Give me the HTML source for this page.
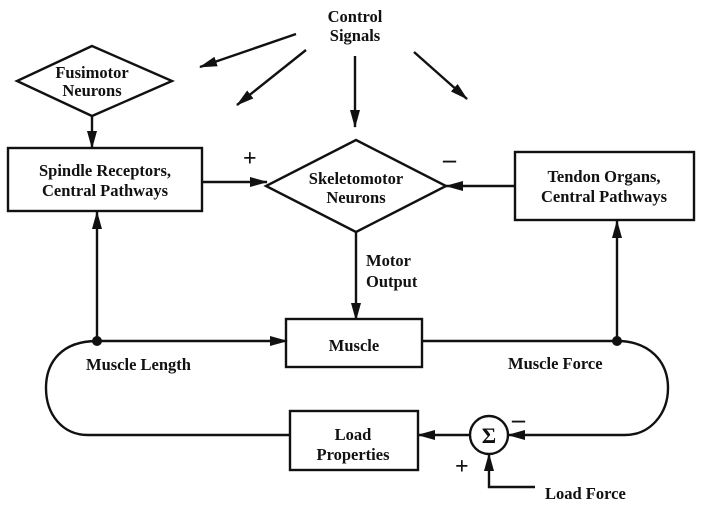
<!DOCTYPE html>
<html><head><meta charset="utf-8"><style>
html,body{margin:0;padding:0;background:#fff;}
svg text{font-family:"Liberation Serif",serif;font-weight:bold;font-size:16.5px;fill:#111;}
</style></head><body>
<svg width="709" height="507" viewBox="0 0 709 507" xmlns="http://www.w3.org/2000/svg">
<defs><marker id="a" markerWidth="18" markerHeight="10" refX="17" refY="5" orient="auto" markerUnits="userSpaceOnUse"><path d="M0,0 L18,5 L0,10 Z" fill="#111"/></marker></defs>
<g stroke="#111" stroke-width="2.4" fill="none">
<line x1="296" y1="34" x2="200" y2="67" marker-end="url(#a)"/>
<line x1="306" y1="50" x2="237" y2="105" marker-end="url(#a)"/>
<line x1="355" y1="56" x2="355" y2="127" marker-end="url(#a)"/>
<line x1="414" y1="52" x2="467" y2="99" marker-end="url(#a)"/>
<polygon points="92,46 172,81 92,116 17,81" fill="#fff"/>
<line x1="92" y1="116" x2="92" y2="148" marker-end="url(#a)"/>
<rect x="8" y="148" width="194" height="63" fill="#fff"/>
<polygon points="356,140 446,186 356,232 266,186" fill="#fff"/>
<line x1="202" y1="182" x2="267" y2="182" marker-end="url(#a)"/>
<rect x="515" y="152" width="179" height="68" fill="#fff"/>
<line x1="515" y1="186" x2="446" y2="186" marker-end="url(#a)"/>
<line x1="356" y1="232" x2="356" y2="320" marker-end="url(#a)"/>
<rect x="286" y="319" width="136" height="48" fill="#fff"/>
<line x1="97" y1="341" x2="287" y2="341" marker-end="url(#a)"/>
<line x1="422" y1="341" x2="617" y2="341"/>
<line x1="97" y1="341" x2="97" y2="212" marker-end="url(#a)"/>
<line x1="617" y1="341" x2="617" y2="221" marker-end="url(#a)"/>
<path d="M97,341 C62,341 46,362 46,388 C46,414 62,435 88,435 L290,435"/>
<path d="M617,341 C650,341 668,362 668,388 C668,414 650,435 625,435 L508,435" marker-end="url(#a)"/>
<rect x="290" y="411" width="128" height="59" fill="#fff"/>
<line x1="470" y1="435" x2="418" y2="435" marker-end="url(#a)"/>
<circle cx="489" cy="435" r="19" fill="#fff"/>
<path d="M535,487 L489,487 L489,454" marker-end="url(#a)"/>
</g>
<circle cx="97" cy="341" r="5" fill="#111"/>
<circle cx="617" cy="341" r="5" fill="#111"/>
<g text-anchor="middle">
<text x="355" y="22">Control</text>
<text x="355" y="41">Signals</text>
<text x="92" y="78">Fusimotor</text>
<text x="92" y="96">Neurons</text>
<text x="105" y="176">Spindle Receptors,</text>
<text x="105" y="196">Central Pathways</text>
<text x="356" y="184">Skeletomotor</text>
<text x="356" y="203">Neurons</text>
<text x="604" y="182">Tendon Organs,</text>
<text x="604" y="202">Central Pathways</text>
<text x="354" y="351">Muscle</text>
<text x="353" y="440">Load</text>
<text x="353" y="460">Properties</text>
<text x="489" y="443" style="font-size:22px">Σ</text>
</g>
<text x="366" y="266">Motor</text>
<text x="366" y="287">Output</text>
<text x="86" y="370">Muscle Length</text>
<text x="508" y="369">Muscle Force</text>
<text x="545" y="499">Load Force</text>
<text x="243" y="166" style="font-size:24px">+</text>
<text x="443" y="168" style="font-size:26px">–</text>
<text x="512" y="428" style="font-size:26px">–</text>
<text x="455" y="474" style="font-size:24px">+</text>
</svg>
</body></html>
